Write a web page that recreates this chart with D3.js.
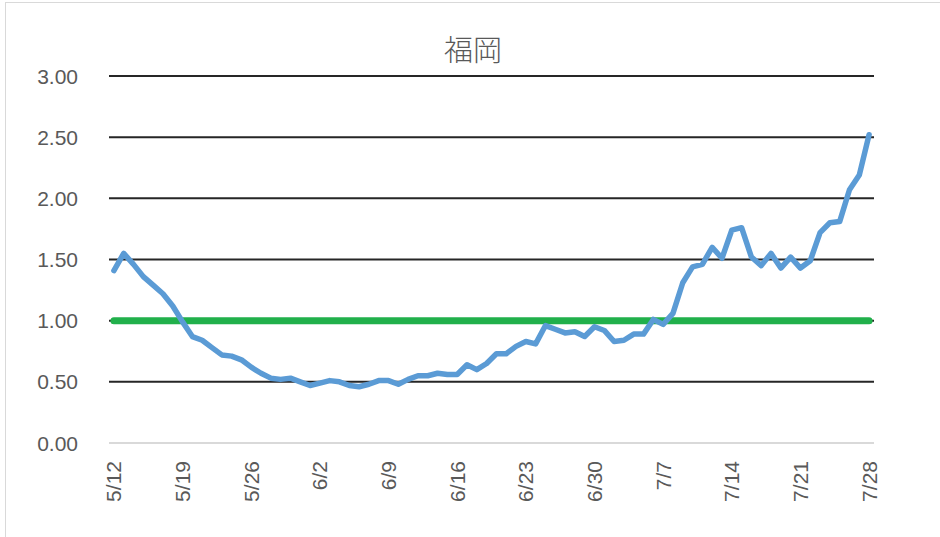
<!DOCTYPE html>
<html>
<head>
<meta charset="utf-8">
<script src="https://cdn.jsdelivr.net/npm/d3@7"></script>
<style>
  body { margin: 0; background: #fff; }
  text { font-family: "Liberation Sans", Arial, sans-serif; fill: #595959; }
</style>
</head>
<body>
<script>
'use strict';

const dates = [
  "5/12","5/13","5/14","5/15","5/16","5/17","5/18","5/19","5/20","5/21","5/22","5/23","5/24","5/25",
  "5/26","5/27","5/28","5/29","5/30","5/31","6/1","6/2","6/3","6/4","6/5","6/6","6/7","6/8",
  "6/9","6/10","6/11","6/12","6/13","6/14","6/15","6/16","6/17","6/18","6/19","6/20","6/21","6/22",
  "6/23","6/24","6/25","6/26","6/27","6/28","6/29","6/30","7/1","7/2","7/3","7/4","7/5","7/6",
  "7/7","7/8","7/9","7/10","7/11","7/12","7/13","7/14","7/15","7/16","7/17","7/18","7/19","7/20",
  "7/21","7/22","7/23","7/24","7/25","7/26","7/27","7/28"
];

const values = [
  1.41, 1.55, 1.46, 1.36, 1.29, 1.22, 1.12, 0.99, 0.87, 0.84, 0.78, 0.72, 0.71, 0.68,
  0.62, 0.57, 0.53, 0.52, 0.53, 0.50, 0.47, 0.49, 0.51, 0.50, 0.47, 0.46, 0.48, 0.51,
  0.51, 0.48, 0.52, 0.55, 0.55, 0.57, 0.56, 0.56, 0.64, 0.60, 0.65, 0.73, 0.73, 0.79,
  0.83, 0.81, 0.96, 0.93, 0.90, 0.91, 0.87, 0.95, 0.92, 0.83, 0.84, 0.89, 0.89, 1.01,
  0.97, 1.06, 1.31, 1.44, 1.46, 1.60, 1.51, 1.74, 1.76, 1.52, 1.45, 1.55, 1.43, 1.52,
  1.43, 1.49, 1.72, 1.80, 1.81, 2.07, 2.19, 2.52
];

const threshold = dates.map(() => 1.0);

const yTicks = [0, 0.5, 1.0, 1.5, 2.0, 2.5, 3.0];
const xTickLabels = ["5/12","5/19","5/26","6/2","6/9","6/16","6/23","6/30","7/7","7/14","7/21","7/28"];

(function () {
  const width = 940, height = 537;
  const plotLeft = 109, plotRight = 874, plotTop = 76, plotBottom = 443;

  const svg = d3.select("body").append("svg")
    .attr("width", width)
    .attr("height", height);

  // chart border
  svg.append("rect")
    .attr("x", 5.5).attr("y", 2.5)
    .attr("width", 945).attr("height", 545)
    .attr("fill", "none")
    .attr("stroke", "#d9d9d9")
    .attr("stroke-width", 1);

  const x = d3.scalePoint()
    .domain(dates)
    .range([plotLeft, plotRight])
    .padding(0.5);

  const y = d3.scaleLinear()
    .domain([0, 3])
    .range([plotBottom, plotTop]);

  // gridlines
  svg.append("g")
    .selectAll("line")
    .data(yTicks.filter(d => d > 0))
    .enter()
    .append("line")
    .attr("x1", plotLeft).attr("x2", plotRight)
    .attr("y1", d => y(d)).attr("y2", d => y(d))
    .attr("stroke", "#262626")
    .attr("stroke-width", 2);

  // category axis line
  svg.append("line")
    .attr("x1", plotLeft).attr("x2", plotRight)
    .attr("y1", y(0)).attr("y2", y(0))
    .attr("stroke", "#d9d9d9")
    .attr("stroke-width", 2);

  // y labels
  svg.append("g")
    .selectAll("text")
    .data(yTicks)
    .enter()
    .append("text")
    .attr("x", 78)
    .attr("y", d => y(d))
    .attr("dy", "0.36em")
    .attr("text-anchor", "end")
    .style("font-size", "21px")
    .text(d => d.toFixed(2));

  // x labels
  svg.append("g")
    .selectAll("text")
    .data(xTickLabels)
    .enter()
    .append("text")
    .attr("transform", d => "translate(" + (x(d) + 7.5) + ",461)rotate(-90)")
    .attr("text-anchor", "end")
    .style("font-size", "21px")
    .text(d => d);

  // title
  svg.append("text")
    .attr("x", 473)
    .attr("y", 61)
    .attr("text-anchor", "middle")
    .style("font-size", "29px")
    .style("font-family", "'Noto Sans CJK JP', sans-serif")
    .style("font-weight", "300")
    .text("福岡");

  const line = d3.line()
    .x((d, i) => x(dates[i]))
    .y(d => y(d));

  svg.append("path")
    .datum(threshold)
    .attr("d", line)
    .attr("fill", "none")
    .attr("stroke", "#21b04b")
    .attr("stroke-width", 7)
    .attr("stroke-linecap", "round");

  svg.append("path")
    .datum(values)
    .attr("d", line)
    .attr("fill", "none")
    .attr("stroke", "#5b9bd5")
    .attr("stroke-width", 5.5)
    .attr("stroke-linejoin", "round")
    .attr("stroke-linecap", "round");
})();
</script>
</body>
</html>
